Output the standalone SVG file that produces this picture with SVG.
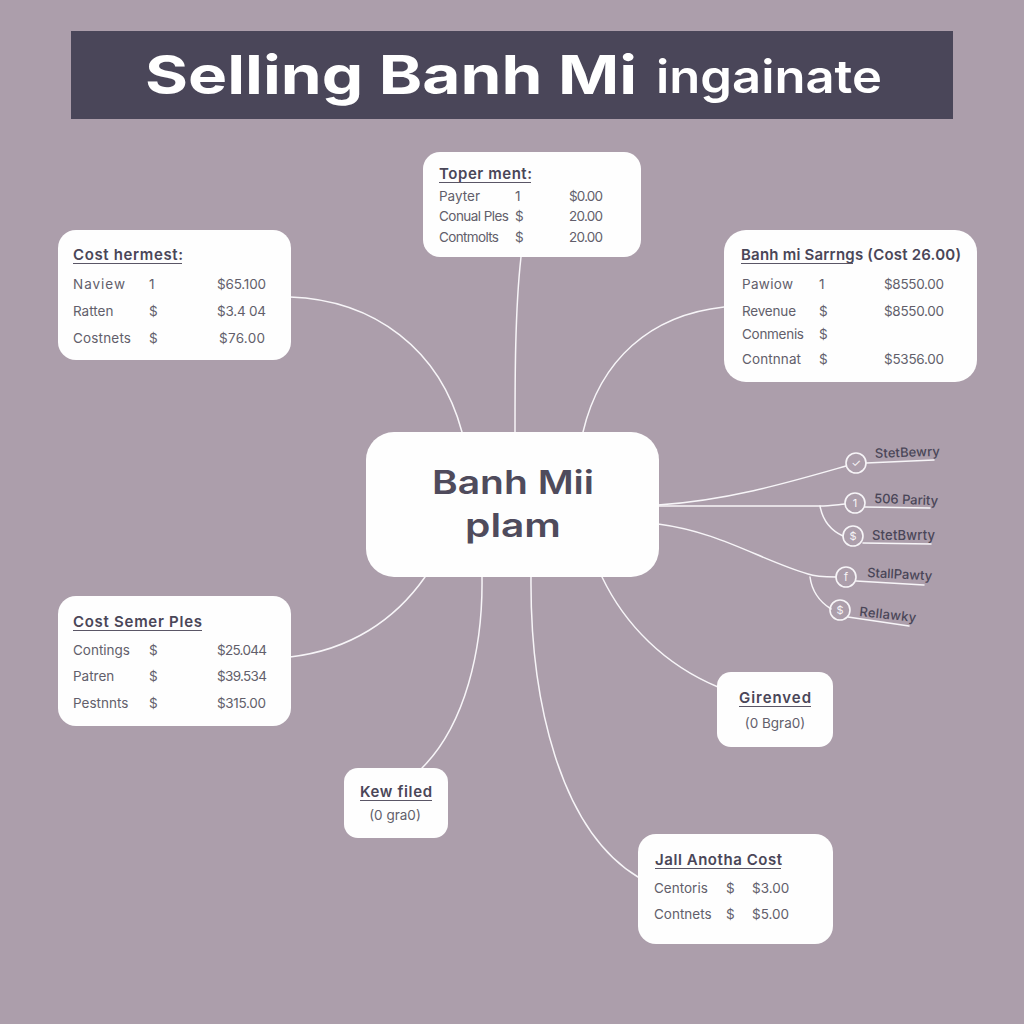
<svg xmlns="http://www.w3.org/2000/svg" width="1024" height="1024" viewBox="0 0 1024 1024">
<defs>
<style>
text{font-family:"Inter","Liberation Sans",sans-serif;}
.card{fill:#fefefe;}
.h{font-size:15px;font-weight:600;fill:#4a4658;}
.r{font-size:13.5px;fill:#625e6b;}
.ul{stroke:#5a5666;stroke-width:1.2;fill:none;}
.c{fill:none;stroke:#f7f5f8;stroke-width:1.5;stroke-linecap:round;}
.b{fill:none;stroke:#f7f5f8;stroke-width:1.6;}
.l{font-size:13px;font-weight:500;fill:#4a4658;}
.g{font-size:11px;fill:#f7f5f8;text-anchor:middle;}
</style>
</defs>
<rect width="1024" height="1024" fill="#ac9eab"/>
<g id="title">
<rect x="71" y="31" width="882" height="88" fill="#4a4659"/>
<text x="145" y="94" font-size="54" font-weight="700" fill="#fff" textLength="492" lengthAdjust="spacingAndGlyphs">Selling Banh Mi</text>
<text x="656" y="93" font-size="46" font-weight="600" fill="#fff" textLength="226" lengthAdjust="spacingAndGlyphs">ingainate</text>
</g>
<g id="connectors">
<path class="c" d="M290 297C375 300 440 350 462 432"/>
<path class="c" d="M521 257C515 310 515 380 515 432"/>
<path class="c" d="M724 307C650 315 600 360 583 432"/>
<path class="c" d="M425 577C395 620 350 650 290 657"/>
<path class="c" d="M482 577C483 650 465 725 422 768"/>
<path class="c" d="M531 577C530 700 560 830 638 877"/>
<path class="c" d="M602 577C625 625 665 665 718 687"/>
<path class="c" d="M658 505C730 500 790 482 846 466"/>
<path class="c" d="M658 506C720 506 780 506 820 506C828 506 835 505 845 504"/>
<path class="c" d="M820 506C823 522 832 531 843 536"/>
<path class="c" d="M658 524C720 532 760 560 808 574C816 577 825 577 836 577"/>
<path class="c" d="M810 577C812 592 820 602 831 609"/>
</g>
<g id="node-center">
<rect x="366" y="432" width="293" height="145" rx="28" class="card"/>
<text x="432" y="494" font-size="33" font-weight="600" fill="#4f4b5c" textLength="162" lengthAdjust="spacingAndGlyphs">Banh Mii</text>
<text x="465" y="537" font-size="33" font-weight="600" fill="#4f4b5c" textLength="96" lengthAdjust="spacingAndGlyphs">plam</text>
</g>
<g id="node-top">
<rect x="423" y="152" width="218" height="105" rx="17" class="card"/>
<text x="439" y="179" class="h" textLength="93">Toper ment:</text>
<path class="ul" d="M439 182.500H531"/>
<text x="439" y="201" class="r">Payter</text><text x="515" y="201" class="r">1</text><text x="569" y="201" class="r" textLength="34">$0.00</text>
<text x="439" y="221" class="r" textLength="70">Conual Ples</text><text x="515" y="221" class="r">$</text><text x="569" y="221" class="r" textLength="34">20.00</text>
<text x="439" y="242" class="r" textLength="60">Contmolts</text><text x="515" y="242" class="r">$</text><text x="569" y="242" class="r" textLength="34">20.00</text>
</g>
<g id="node-left-top">
<rect x="58" y="230" width="233" height="130" rx="18" class="card"/>
<text x="73" y="260" class="h" textLength="110">Cost hermest:</text>
<path class="ul" d="M73 263.500H182"/>
<text x="73" y="289" class="r" textLength="52">Naview</text><text x="149" y="289" class="r">1</text><text x="217" y="289" class="r" textLength="49">$65.100</text>
<text x="73" y="316" class="r">Ratten</text><text x="149" y="316" class="r">$</text><text x="217" y="316" class="r" textLength="49">$3.4 04</text>
<text x="73" y="343" class="r" textLength="58">Costnets</text><text x="149" y="343" class="r">$</text><text x="219" y="343" class="r" textLength="46">$76.00</text>
</g>
<g id="node-right-top">
<rect x="724" y="230" width="253" height="152" rx="22" class="card"/>
<text x="741" y="260" class="h" textLength="220">Banh mi Sarrngs (Cost 26.00)</text>
<path class="ul" d="M741 263.500H853"/>
<text x="742" y="289" class="r" textLength="51">Pawiow</text><text x="819" y="289" class="r">1</text><text x="884" y="289" class="r" textLength="60">$8550.00</text>
<text x="742" y="316" class="r" textLength="54">Revenue</text><text x="819" y="316" class="r">$</text><text x="884" y="316" class="r" textLength="60">$8550.00</text>
<text x="742" y="339" class="r" textLength="62">Conmenis</text><text x="819" y="339" class="r">$</text>
<text x="742" y="364" class="r" textLength="59">Contnnat</text><text x="819" y="364" class="r">$</text><text x="884" y="364" class="r" textLength="60">$5356.00</text>
</g>
<g id="node-left-bottom">
<rect x="58" y="596" width="233" height="130" rx="18" class="card"/>
<text x="73" y="627" class="h" textLength="129">Cost Semer Ples</text>
<path class="ul" d="M73 630.500H202"/>
<text x="73" y="655" class="r">Contings</text><text x="149" y="655" class="r">$</text><text x="217" y="655" class="r" textLength="50">$25.044</text>
<text x="73" y="681" class="r">Patren</text><text x="149" y="681" class="r">$</text><text x="217" y="681" class="r" textLength="50">$39.534</text>
<text x="73" y="708" class="r">Pestnnts</text><text x="149" y="708" class="r">$</text><text x="217" y="708" class="r" textLength="49">$315.00</text>
</g>
<g id="node-girenved">
<rect x="717" y="672" width="116" height="75" rx="14" class="card"/>
<text x="739" y="703" class="h" textLength="72">Girenved</text>
<path class="ul" d="M739 706.500H811"/>
<text x="775" y="728" class="r" text-anchor="middle">(0 Bgra0)</text>
</g>
<g id="node-kew">
<rect x="344" y="768" width="104" height="70" rx="14" class="card"/>
<text x="360" y="797" class="h" textLength="72">Kew filed</text>
<path class="ul" d="M360 800.500H432"/>
<text x="395" y="820" class="r" text-anchor="middle">(0 gra0)</text>
</g>
<g id="node-jall">
<rect x="638" y="834" width="195" height="110" rx="18" class="card"/>
<text x="655" y="865" class="h" textLength="127">Jall Anotha Cost</text>
<path class="ul" d="M655 868.500H781"/>
<text x="654" y="893" class="r">Centoris</text><text x="726" y="893" class="r">$</text><text x="752" y="893" class="r">$3.00</text>
<text x="654" y="919" class="r">Contnets</text><text x="726" y="919" class="r">$</text><text x="752" y="919" class="r">$5.00</text>
</g>
<g id="leaf-1">
<circle cx="856" cy="463" r="10" class="b"/><text x="856" y="467" class="g">✓</text>
<path class="c" d="M866 463L934 460"/>
<text x="875" y="458" class="l" transform="rotate(-2 875 458)" textLength="65">StetBewry</text>
</g>
<g id="leaf-2">
<circle cx="855" cy="503" r="10" class="b"/><text x="855" y="507" class="g">1</text>
<path class="c" d="M865 507L930 508"/>
<text x="874" y="503" class="l" transform="rotate(2 874 503)" textLength="64">506 Parity</text>
</g>
<g id="leaf-3">
<circle cx="853" cy="536" r="10" class="b"/><text x="853" y="540" class="g">$</text>
<path class="c" d="M863 543L931 544"/>
<text x="872" y="540" class="l" textLength="63">StetBwrty</text>
</g>
<g id="leaf-4">
<circle cx="846" cy="577" r="10" class="b"/><text x="846" y="581" class="g">f</text>
<path class="c" d="M856 581L924 585"/>
<text x="867" y="577" class="l" transform="rotate(3 867 577)" textLength="65">StallPawty</text>
</g>
<g id="leaf-5">
<circle cx="840" cy="610" r="10" class="b"/><text x="840" y="614" class="g">$</text>
<path class="c" d="M848 617L909 626"/>
<text x="859" y="616" class="l" transform="rotate(6 859 616)" textLength="57">Rellawky</text>
</g>
</svg>
